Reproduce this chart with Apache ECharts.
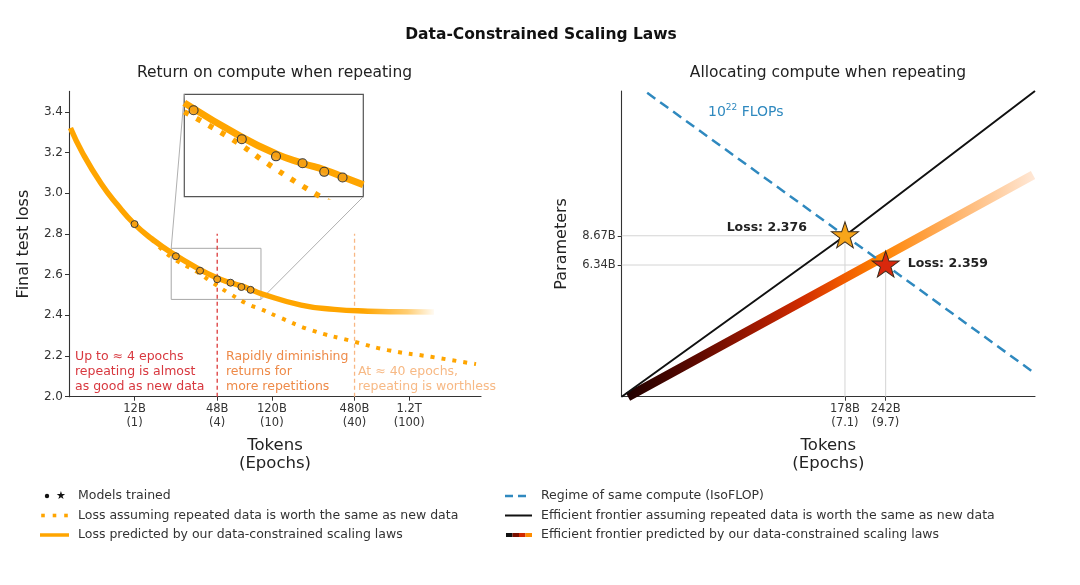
<!DOCTYPE html>
<html><head><meta charset="utf-8">
<script src="https://cdn.jsdelivr.net/npm/echarts@6/dist/echarts.min.js"></script>
<style>html,body{margin:0;padding:0;background:#fff}#c{width:1080px;height:585px}</style>
</head><body><div id="c"></div>
<script>
// ---------------- data (left panel: tokens in billions) ----------------
const modelTokensB = [12, 24, 36, 48, 60, 72, 84];
const modelLoss = [2.848, 2.69, 2.619, 2.577, 2.56, 2.539, 2.525];
const predTokensB = [4.1, 5, 6.87, 9, 12, 16, 22.2, 36, 48, 60, 72, 84, 100, 196, 341, 600, 1000, 1820];
const predLoss = [3.32, 3.2, 3.046, 2.943, 2.848, 2.776, 2.708, 2.624, 2.583, 2.56, 2.544, 2.527, 2.507, 2.45, 2.429, 2.42, 2.417, 2.416];
const naiveTokensB = [12, 16, 22.2, 33.5, 44.5, 59, 80, 100, 133, 232, 480, 838, 1730, 3680];
const naiveLoss = [2.845, 2.772, 2.686, 2.617, 2.56, 2.507, 2.455, 2.43, 2.393, 2.327, 2.27, 2.229, 2.196, 2.16];
const leftTickTokensB = [12, 48, 120, 480, 1200];
const leftTickLabels = ['12B\n(1)', '48B\n(4)', '120B\n(10)', '480B\n(40)', '1.2T\n(100)'];
const lossTicks = [2.0, 2.2, 2.4, 2.6, 2.8, 3.0, 3.2, 3.4];
const leftXRangeB = [4, 4000];
const leftYRange = [2.0, 3.5];
const zoomTokensB = [22.2, 100];
const zoomLoss = [2.478, 2.729];
const thresholdTokensB = [48, 480];
const thresholdLoss = [2.0, 2.8];

// ---------------- data (right panel: billions, log-log) ----------------
const rightXRangeB = [33, 747];
const rightYRangeB = [1.55, 40.8];
const isoTokensB = [40, 178, 242, 743];
const isoParamsB = [40, 8.67, 6.34, 2.0];
const chinTokensB = [33, 178, 747];
const chinParamsB = [1.55, 8.67, 40.8];
const dcTokensB = [34.6, 242, 736];
const dcParamsB = [1.55, 7.0, 16.6];
const optTokensB = [178, 242];
const optParamsB = [8.67, 6.34];
const optLoss = ['2.376', '2.359'];
const rightTickTokensB = [178, 242];
const rightTickTokenLabels = ['178B\n(7.1)', '242B\n(9.7)'];
const rightTickParamsB = [6.34, 8.67];
const rightTickParamLabels = ['6.34B', '8.67B'];

// ---------------- helpers ----------------
const L = v => Math.log10(v);
const FONT = 'DejaVu Sans';
const ORANGE = '#ffa500';
const BLUE = '#2f89bf';
const pairs = (xs, ys) => xs.map((x, i) => [L(x), ys[i]]);
const pairsLL = (xs, ys) => xs.map((x, i) => [L(x), L(ys[i])]);
const inWindow = (xs, ys) => pairs(xs, ys).filter(p => p[0] >= L(zoomTokensB[0]) - 1e-9 && p[0] <= L(zoomTokensB[1]) + 1e-9);
const lookup = (v, vals, labels) => {
  const i = vals.findIndex(t => Math.abs(L(t) - v) < 1e-6);
  return i >= 0 ? labels[i] : '';
};
const axisLine = {show: true, onZero: false, lineStyle: {color: '#333', width: 1.1}};
const tickStyle = {color: '#333', width: 1};

const chart = echarts.init(document.getElementById('c'), null, {renderer: 'canvas'});

const xAxes = [
  {
    gridIndex: 0, type: 'value', min: L(leftXRangeB[0]), max: L(leftXRangeB[1]),
    splitLine: {show: false}, axisLine,
    axisTick: {show: true, inside: false, length: 4, lineStyle: tickStyle, customValues: leftTickTokensB.map(L)},
    axisLabel: {customValues: leftTickTokensB.map(L), formatter: v => lookup(v, leftTickTokensB, leftTickLabels),
      color: '#333', fontFamily: FONT, fontSize: 11.5, lineHeight: 14.5, margin: 5},
    name: 'Tokens\n(Epochs)', nameLocation: 'middle', nameGap: 40,
    nameTextStyle: {fontFamily: FONT, fontSize: 16.5, lineHeight: 18, color: '#222'}
  },
  {
    gridIndex: 1, type: 'value', min: L(rightXRangeB[0]), max: L(rightXRangeB[1]),
    splitLine: {show: false}, axisLine,
    axisTick: {show: true, inside: false, length: 4, lineStyle: tickStyle, customValues: rightTickTokensB.map(L)},
    axisLabel: {customValues: rightTickTokensB.map(L), formatter: v => lookup(v, rightTickTokensB, rightTickTokenLabels),
      color: '#333', fontFamily: FONT, fontSize: 11.5, lineHeight: 14.5, margin: 5},
    name: 'Tokens\n(Epochs)', nameLocation: 'middle', nameGap: 40,
    nameTextStyle: {fontFamily: FONT, fontSize: 16.5, lineHeight: 18, color: '#222'}
  },
  {gridIndex: 2, type: 'value', min: L(zoomTokensB[0]), max: L(zoomTokensB[1]), show: false}
];
const yAxes = [
  {
    gridIndex: 0, type: 'value', min: leftYRange[0], max: leftYRange[1],
    splitLine: {show: false}, axisLine,
    axisTick: {show: true, inside: false, length: 4, lineStyle: tickStyle, customValues: lossTicks},
    axisLabel: {customValues: lossTicks, formatter: v => v.toFixed(1), color: '#333', fontFamily: FONT, fontSize: 12, margin: 6},
    name: 'Final test loss', nameLocation: 'middle', nameGap: 37,
    nameTextStyle: {fontFamily: FONT, fontSize: 16, color: '#222'}
  },
  {
    gridIndex: 1, type: 'value', min: L(rightYRangeB[0]), max: L(rightYRangeB[1]),
    splitLine: {show: false}, axisLine,
    axisTick: {show: true, inside: false, length: 4, lineStyle: tickStyle, customValues: rightTickParamsB.map(L)},
    axisLabel: {customValues: rightTickParamsB.map(L), formatter: v => lookup(v, rightTickParamsB, rightTickParamLabels),
      color: '#333', fontFamily: FONT, fontSize: 11.5, margin: 6},
    name: 'Parameters', nameLocation: 'middle', nameGap: 52,
    nameTextStyle: {fontFamily: FONT, fontSize: 16, color: '#222'}
  },
  {gridIndex: 2, type: 'value', min: zoomLoss[0], max: zoomLoss[1], show: false}
];

const fadeOrange = {type: 'linear', x: 0, y: 0, x2: 1, y2: 0, colorStops: [
  {offset: 0, color: ORANGE}, {offset: 0.8, color: ORANGE},
  {offset: 0.92, color: 'rgba(255,165,0,0.55)'}, {offset: 1, color: 'rgba(255,165,0,0)'}]};
const heat = {type: 'linear', x: 0, y: 0, x2: 1, y2: 0, colorStops: [
  {offset: 0, color: '#1e0000'}, {offset: 0.18, color: '#5e0900'}, {offset: 0.33, color: '#a51a00'},
  {offset: 0.43, color: '#cf2c00'}, {offset: 0.52, color: '#ee5600'}, {offset: 0.62, color: '#ff8200'},
  {offset: 0.74, color: '#ffa448'}, {offset: 0.87, color: '#ffc690'}, {offset: 1, color: '#ffeadb'}]};

const zx0 = L(zoomTokensB[0]), zx1 = L(zoomTokensB[1]);
const SM = 0.5;
const markerStyle = {color: 'rgba(245,160,20,0.9)', borderColor: '#3a3a3a', borderWidth: 1, opacity: 1};
const series = [
  // left main
  {type: 'line', xAxisIndex: 0, yAxisIndex: 0, data: pairs(naiveTokensB, naiveLoss), symbol: 'none',
    smooth: SM, lineStyle: {color: ORANGE, width: 4, type: [4, 7]}, z: 3},
  {type: 'line', xAxisIndex: 0, yAxisIndex: 0, data: pairs(predTokensB, predLoss), symbol: 'none',
    smooth: SM, lineStyle: {color: fadeOrange, width: 5.5}, z: 4},
  {type: 'scatter', xAxisIndex: 0, yAxisIndex: 0, data: pairs(modelTokensB, modelLoss), symbolSize: 7,
    itemStyle: markerStyle, z: 6},
  {type: 'line', xAxisIndex: 0, yAxisIndex: 0, symbol: 'none',
    data: [[zx0, zoomLoss[0]], [zx1, zoomLoss[0]], [zx1, zoomLoss[1]], [zx0, zoomLoss[1]], [zx0, zoomLoss[0]]],
    lineStyle: {color: '#a8a8a8', width: 1}, z: 2},
  {type: 'line', xAxisIndex: 0, yAxisIndex: 0, symbol: 'none',
    data: [[L(thresholdTokensB[0]), thresholdLoss[0]], [L(thresholdTokensB[0]), thresholdLoss[1]]],
    lineStyle: {color: '#dc3a3a', width: 1.3, type: [4, 3]}, z: 2},
  {type: 'line', xAxisIndex: 0, yAxisIndex: 0, symbol: 'none',
    data: [[L(thresholdTokensB[1]), thresholdLoss[0]], [L(thresholdTokensB[1]), thresholdLoss[1]]],
    lineStyle: {color: '#f8b784', width: 1.3, type: [4, 3]}, z: 2},
  // inset (only the points inside the zoom window)
  {type: 'line', xAxisIndex: 2, yAxisIndex: 2, data: inWindow(naiveTokensB, naiveLoss).filter(p => p[1] >= zoomLoss[0] - 0.03),
    symbol: 'none', clip: true, smooth: SM, lineStyle: {color: ORANGE, width: 5.5, type: [5, 9], cap: 'butt'}, z: 12},
  {type: 'line', xAxisIndex: 2, yAxisIndex: 2, data: inWindow(predTokensB, predLoss), symbol: 'none', clip: true,
    smooth: SM, lineStyle: {color: ORANGE, width: 7, cap: 'butt'}, z: 13},
  {type: 'scatter', xAxisIndex: 2, yAxisIndex: 2, data: pairs(modelTokensB, modelLoss), symbolSize: 9, clip: true,
    itemStyle: Object.assign({}, markerStyle, {borderWidth: 1.1}), z: 14},
  // right
  {type: 'line', xAxisIndex: 1, yAxisIndex: 1, symbol: 'none', lineStyle: {color: '#d4d4d4', width: 1}, z: 1,
    data: [[L(rightXRangeB[0]), L(optParamsB[0])], [L(optTokensB[0]), L(optParamsB[0])], [L(optTokensB[0]), L(rightYRangeB[0])]]},
  {type: 'line', xAxisIndex: 1, yAxisIndex: 1, symbol: 'none', lineStyle: {color: '#d4d4d4', width: 1}, z: 1,
    data: [[L(rightXRangeB[0]), L(optParamsB[1])], [L(optTokensB[1]), L(optParamsB[1])], [L(optTokensB[1]), L(rightYRangeB[0])]]},
  {type: 'line', xAxisIndex: 1, yAxisIndex: 1, symbol: 'none', data: pairsLL(dcTokensB, dcParamsB),
    lineStyle: {color: heat, width: 9}, z: 3},
  {type: 'line', xAxisIndex: 1, yAxisIndex: 1, symbol: 'none', data: pairsLL(chinTokensB, chinParamsB),
    lineStyle: {color: '#111', width: 2}, z: 4},
  {type: 'line', xAxisIndex: 1, yAxisIndex: 1, symbol: 'none', data: pairsLL(isoTokensB, isoParamsB),
    lineStyle: {color: BLUE, width: 2.5, type: [10, 6]}, z: 5},
  {type: 'scatter', xAxisIndex: 1, yAxisIndex: 1, z: 8,
    symbol: 'path://M50,0 L61.8,35.1 L98.1,35.1 L68.8,56.7 L79.4,91 L50,70 L20.6,91 L31.2,56.7 L1.9,35.1 L38.2,35.1 Z',
    symbolSize: [27, 26], symbolOffset: [0, -1],
    data: optTokensB.map((t, i) => ({
      value: [L(t), L(optParamsB[i])],
      itemStyle: {color: i === 0 ? '#f8a51a' : '#d8280c', borderColor: '#3a2a1a', borderWidth: 1, opacity: 1},
      label: {show: true, position: i === 0 ? 'left' : 'right', distance: i === 0 ? 24 : 8,
        offset: i === 0 ? [0, -7] : [0, 0],
        formatter: 'Loss: ' + optLoss[i], fontFamily: FONT, fontWeight: 'bold', fontSize: 12.5, color: '#222'}
    }))}
];

const graphics = [];
const txt = (x, y, text, o) => graphics.push({type: 'text', x, y, silent: true, z: 20,
  style: Object.assign({text, fontFamily: FONT, fontSize: 12.5, fill: '#333', align: 'left', verticalAlign: 'middle'}, o || {})});

txt(541, 35, 'Data-Constrained Scaling Laws', {fontSize: 15.5, fontWeight: 'bold', align: 'center', fill: '#111'});
txt(274.5, 73, 'Return on compute when repeating', {fontSize: 15.5, align: 'center', fill: '#222'});
txt(828, 73, 'Allocating compute when repeating', {fontSize: 15.5, align: 'center', fill: '#222'});
txt(75, 349.5, 'Up to \u2248 4 epochs\nrepeating is almost\nas good as new data', {fill: '#d8383f', lineHeight: 15, verticalAlign: 'top'});
txt(226, 349.5, 'Rapidly diminishing\nreturns for\nmore repetitions', {fill: '#ee8a48', lineHeight: 15, verticalAlign: 'top'});
txt(358, 364.5, 'At \u2248 40 epochs,\nrepeating is worthless', {fill: '#f7b985', lineHeight: 15, verticalAlign: 'top'});
txt(708, 112, '10{s|22} FLOPs', {fill: BLUE, fontSize: 14, lineHeight: 18,
  rich: {s: {fontSize: 9, fill: BLUE, fontFamily: FONT, verticalAlign: 'top', lineHeight: 10}}});

// legend
const rows = [496, 515.5, 535];
graphics.push({type: 'circle', silent: true, shape: {cx: 47, cy: rows[0], r: 2.2}, style: {fill: '#111'}});
txt(61, rows[0], '\u2605', {fontSize: 11, align: 'center', fill: '#111'});
[43, 54.5, 66].forEach(x => graphics.push({type: 'rect', silent: true, shape: {x: x - 1.8, y: rows[1] - 1.8, width: 3.6, height: 3.6}, style: {fill: ORANGE}}));
graphics.push({type: 'line', silent: true, shape: {x1: 40, y1: rows[2], x2: 69, y2: rows[2]}, style: {stroke: ORANGE, lineWidth: 3.5}});
txt(78, rows[0], 'Models trained');
txt(78, rows[1], 'Loss assuming repeated data is worth the same as new data');
txt(78, rows[2], 'Loss predicted by our data-constrained scaling laws');
graphics.push({type: 'line', silent: true, shape: {x1: 505, y1: rows[0], x2: 531, y2: rows[0]}, style: {stroke: BLUE, lineWidth: 2.5, lineDash: [8, 5]}});
graphics.push({type: 'line', silent: true, shape: {x1: 505, y1: rows[1], x2: 532, y2: rows[1]}, style: {stroke: '#111', lineWidth: 2}});
['#111', '#7a1000', '#d02800', '#ff8c00'].forEach((c, i) => graphics.push({type: 'rect', silent: true,
  shape: {x: 506 + i * 6.5, y: rows[2] - 2, width: 6.5, height: 4}, style: {fill: c}}));
txt(541, rows[0], 'Regime of same compute (IsoFLOP)');
txt(541, rows[1], 'Efficient frontier assuming repeated data is worth the same as new data');
txt(541, rows[2], 'Efficient frontier predicted by our data-constrained scaling laws');

chart.setOption({
  animation: false,
  backgroundColor: '#fff',
  grid: [
    {left: 69, top: 91.4, width: 412, height: 305.3},
    {left: 621.7, top: 91, width: 413.3, height: 305.7},
    {left: 184.3, top: 94.3, width: 179, height: 102.4, show: true, borderColor: '#555', borderWidth: 1.2, backgroundColor: '#fff', z: 1}
  ],
  xAxis: xAxes, yAxis: yAxes, series, graphic: graphics
});

// connectors from zoom window to inset
const a1 = chart.convertToPixel({xAxisIndex: 0, yAxisIndex: 0}, [zx0, zoomLoss[1]]);
const b1 = chart.convertToPixel({xAxisIndex: 2, yAxisIndex: 2}, [zx0, zoomLoss[1]]);
const a2 = chart.convertToPixel({xAxisIndex: 0, yAxisIndex: 0}, [zx1, zoomLoss[0]]);
const b2 = chart.convertToPixel({xAxisIndex: 2, yAxisIndex: 2}, [zx1, zoomLoss[0]]);
graphics.push({type: 'line', silent: true, z: 1, shape: {x1: a1[0], y1: a1[1], x2: b1[0], y2: b1[1]}, style: {stroke: '#b0b0b0', lineWidth: 1}});
graphics.push({type: 'line', silent: true, z: 1, shape: {x1: a2[0], y1: a2[1], x2: b2[0], y2: b2[1]}, style: {stroke: '#b0b0b0', lineWidth: 1}});
chart.setOption({graphic: graphics}, {replaceMerge: ['graphic']});
</script></body></html>
